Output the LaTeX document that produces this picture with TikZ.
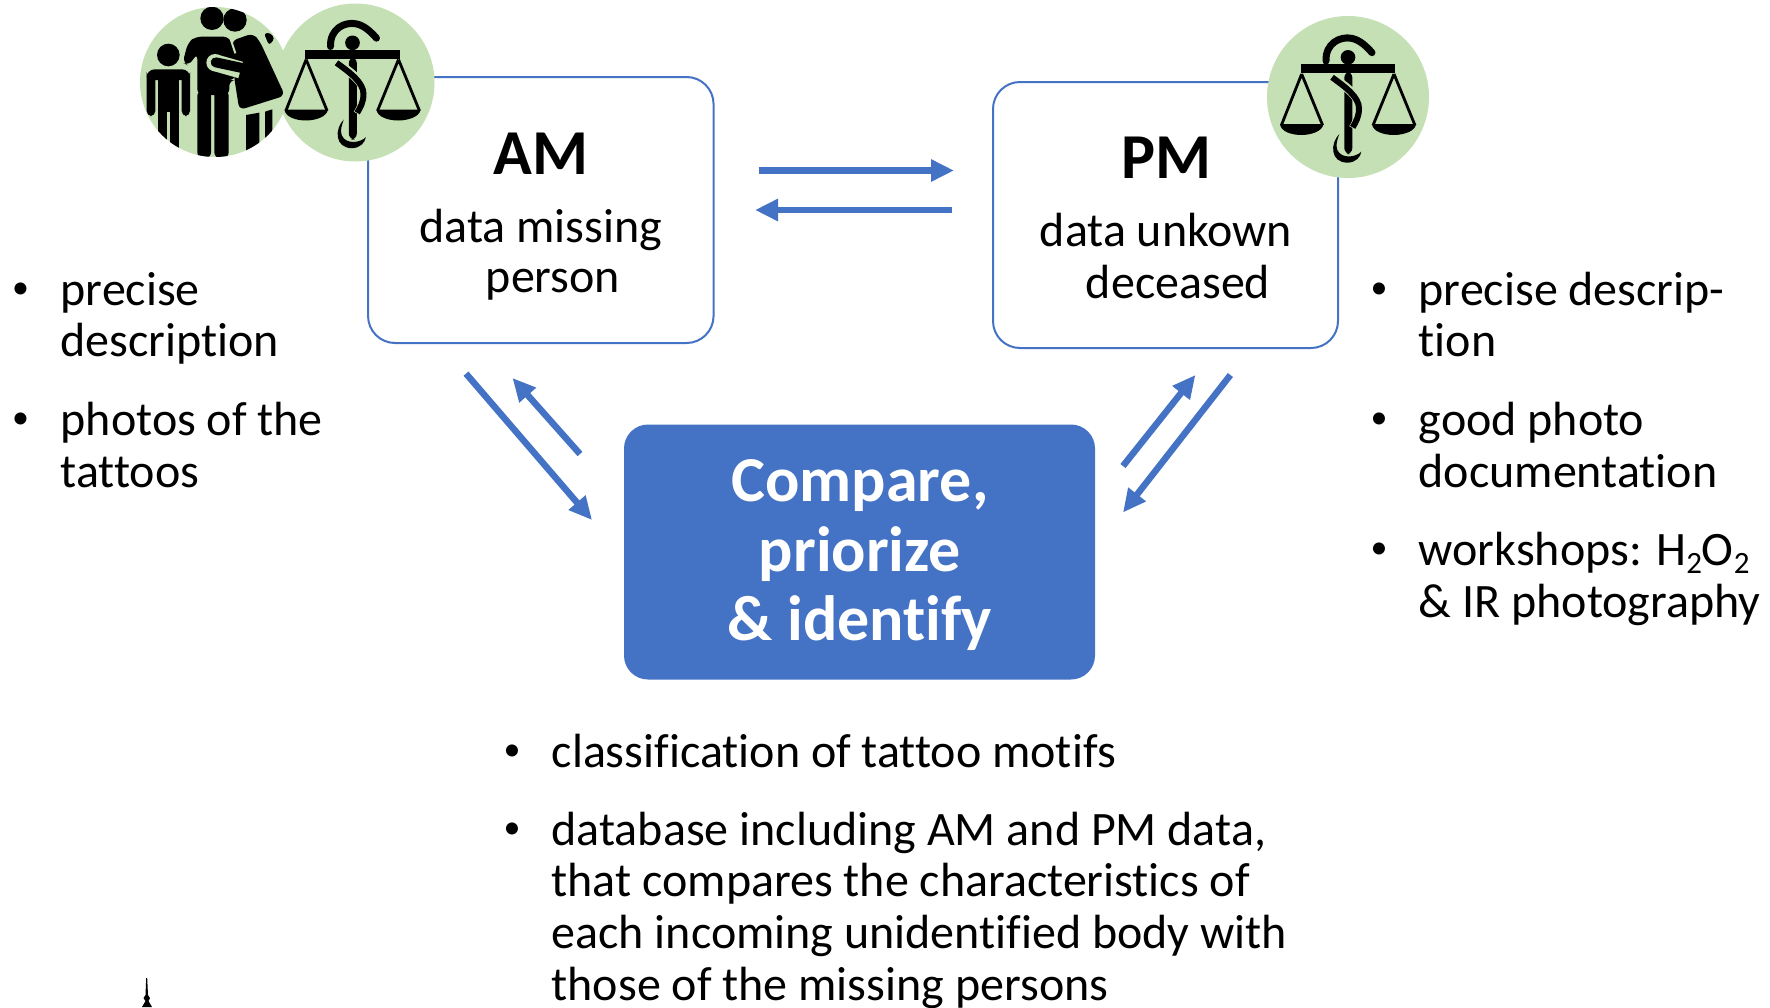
\documentclass[tikz,border=0pt]{standalone}
\usepackage{fontspec}
\setmainfont[Ligatures=NoCommon,Contextuals=NoAlternate]{Carlito}
\usetikzlibrary{arrows.meta}
\definecolor{boxblue}{HTML}{4472C4}
\definecolor{iconGreen}{HTML}{C5E0B4}
\newcommand{\subnum}[1]{\raisebox{-8pt}{\fontsize{31}{31}\selectfont #1}}
\tikzset{
  txt/.style={anchor=base west,inner sep=0pt,font=\fontsize{48}{52}\selectfont,text=black},
  ctr/.style={anchor=base,inner sep=0pt,font=\fontsize{48}{52}\selectfont,text=black},
  bul/.style={anchor=base,inner sep=0pt,font=\fontsize{34}{34}\selectfont,text=black},
  ttl/.style={anchor=base,inner sep=0pt,font=\fontsize{64}{70}\selectfont\bfseries,text=black},
  big/.style={anchor=base,inner sep=0pt,font=\fontsize{64}{69}\selectfont\bfseries,text=white},
  outlinebox/.style={draw=boxblue,line width=2pt,rounded corners=27pt,fill=white,inner sep=0pt},
  solidbox/.style={fill=boxblue,rounded corners=24pt,inner sep=0pt},
  flow/.style={draw=boxblue,line width=6.5pt,-{Triangle[length=23pt,width=21pt]},shorten >=0pt},
  badge/.style={circle,fill=iconGreen,inner sep=0pt},
}
\newcommand{\scalesicon}{%
  % pans and strings
  \draw[black,line width=2.8pt,line join=round] (155,222) -- (94,376) (155,222) -- (218,376);
  \draw[black,line width=2.8pt,line join=round] (432,222) -- (369,376) (432,222) -- (495,376);
  \fill[black] (90,372) -- (220,372) .. controls (218,395) and (180,405) .. (155,405) .. controls (125,405) and (92,395) .. (90,372) -- cycle;
  \fill[black] (366,372) -- (498,372) .. controls (496,395) and (458,405) .. (432,405) .. controls (402,405) and (368,395) .. (366,372) -- cycle;
  % beam, head, staff
  \fill[black] (152,192) rectangle (436,220);
  \fill[black] (294,172) circle (22);
  \fill[black,rounded corners=6pt] (283,215) rectangle (307,462);
  \draw[black,line width=7pt,line cap=round] (228,183) .. controls (226,130) and (270,108) .. (305,115) .. controls (330,120) and (350,140) .. (366,158);
  % serpent
  \draw[iconGreen,line width=9pt] (248,232) .. controls (290,262) and (330,290) .. (330,325) .. controls (330,350) and (320,365) .. (310,385);
  \draw[black,line width=6pt] (246,232) .. controls (288,262) and (327,292) .. (327,325) .. controls (327,350) and (318,365) .. (308,382);
  \fill[black] (268,402) .. controls (240,430) and (240,487) .. (292,488) .. controls (318,488) and (332,470) .. (334,455) .. controls (318,472) and (275,478) .. (262,450) .. controls (256,435) and (262,418) .. (268,402) -- cycle;
}
\begin{document}
\begin{tikzpicture}[x=1pt,y=-1pt]
\useasboundingbox (0,0) rectangle (1770,1007);

% boxes
\node[outlinebox,minimum width=345.5pt,minimum height=266pt] (am) at (540.8,210) {};
\node[outlinebox,minimum width=345pt,minimum height=266pt] (pm) at (1165.5,215) {};
\node[solidbox,minimum width=471pt,minimum height=255pt] (cmp) at (859.5,552) {};

% box texts
\node[ttl] (amT) at (541,174) {AM};
\node[ctr] (amA) at (541,242) {data missing};
\node[ctr] (amB) at (553,292.5) {person};
\node[ttl] (pmT) at (1166,178.5) {PM};
\node[ctr] (pmA) at (1166,246) {data unkown};
\node[ctr] (pmB) at (1178,298) {deceased};
\node[big] (c1) at (860,501) {Compare,};
\node[big] (c2) at (860,571) {priorize};
\node[big] (c3) at (860,640) {\&\ identify};

% connector ends
\coordinate (a1) at (758.5,170.5); \coordinate (a2) at (954,170.5);
\coordinate (b1) at (951.6,210);   \coordinate (b2) at (755,210);
\coordinate (c1s) at (466,373.6);  \coordinate (c1e) at (592,520);
\coordinate (d1) at (580,454);     \coordinate (d2) at (512.5,378);
\coordinate (e1) at (1123,466);    \coordinate (e2) at (1195.4,375);
\coordinate (f1) at (1230.4,375);  \coordinate (f2) at (1123,512.5);
\draw[flow] (a1) -- (a2);
\draw[flow] (b1) -- (b2);
\draw[flow] (c1s) -- (c1e);
\draw[flow] (d1) -- (d2);
\draw[flow] (e1) -- (e2);
\draw[flow] (f1) -- (f2);

% left list
\node[bul] (lb1) at (20.5,298) {•};
\node[txt] (l1) at (60.5,305) {precise};
\node[txt] (l2) at (60.5,356) {description};
\node[bul] (lb2) at (20.5,428) {•};
\node[txt] (l3) at (60.5,435) {photos of the};
\node[txt] (l4) at (60.5,487) {tattoos};

% right list
\node[bul] (rb1) at (1379,298) {•};
\node[txt] (r1) at (1418.5,305) {precise descrip-};
\node[txt] (r2) at (1418.5,356) {tion};
\node[bul] (rb2) at (1379,428) {•};
\node[txt] (r3) at (1418.5,435) {good photo};
\node[txt] (r4) at (1418.5,487) {documentation};
\node[bul] (rb3) at (1379,558.5) {•};
\node[txt] (r5) at (1418.5,565.5) {workshops: H\subnum{2}O\subnum{2}};
\node[txt] (r6) at (1418.5,617) {\&\ IR photography};

% bottom list
\node[bul] (bb1) at (512,760) {•};
\node[txt] (b1t) at (551.5,767) {classification of tattoo motifs};
\node[bul] (bb2) at (512,838) {•};
\node[txt] (b2t) at (551.5,845) {database including AM and PM data,};
\node[txt] (b3t) at (551.5,896.5) {that compares the characteristics of};
\node[txt] (b4t) at (551.5,948.5) {each incoming unidentified body with};
\node[txt] (b5t) at (551.5,1000) {those of the missing persons};

% badges
\node[badge,minimum size=158pt] (scA) at (355.5,82.5) {};
\node[badge,minimum size=150pt] (fam) at (215,82) {};
\node[badge,minimum size=162pt] (scB) at (1348,97) {};

% family icon
\begin{scope}
\clip (215,82) circle (75);
\begin{scope}[shift={(120,0)},x=0.33333pt,y=-0.33333pt]
  % child
  \fill[black] (145,165) circle (34);
  \fill[black,rounded corners=8pt] (80,208) rectangle (210,240);
  \fill[black,rounded corners=5pt] (80,215) rectangle (106,348);
  \fill[black,rounded corners=5pt] (185,215) rectangle (210,348);
  \fill[black] (113,225) rectangle (178,335);
  \fill[black] (113,330) rectangle (141,470);
  \fill[black] (149,330) rectangle (178,470);
  % man
  \fill[black] (276,55) circle (35);
  \fill[black,rounded corners=6pt] (188,188) -- (204,128) -- (226,110) -- (328,110) -- (346,165) -- (346,240) -- (328,240) -- (328,285) -- (232,285) -- (232,160) -- (206,197) -- cycle;
  \fill[black,rounded corners=6pt] (232,270) rectangle (273,475);
  \fill[black,rounded corners=6pt] (283,270) rectangle (326,475);
  % woman
  \fill[black] (345,60) circle (35);
  \fill[black,rounded corners=6pt] (335,122) -- (400,100) -- (420,125) -- (495,287) -- (358,330) -- (343,235) -- cycle;
  \draw[iconGreen,line width=2pt] (332,118) -- (346,160);
  % woman's arm, set off from the man's body
  \fill[iconGreen] (285,188) circle (26);
  \draw[iconGreen,line width=17pt] (285,188) -- (362,210);
  \draw[black,line width=10pt,line cap=round] (287,187) -- (385,208);
  \fill[black] (378,345) -- (418,338) -- (418,470) -- (378,470) -- cycle;
  \fill[black] (435,335) -- (457,328) -- (457,470) -- (435,470) -- cycle;
  \fill[black,rounded corners=3pt] (432,100) -- (450,98) -- (464,116) -- (447,136) -- cycle;
\end{scope}
\end{scope}

% scales icons
\begin{scope}[shift={(254.5,-14.5)},x=0.33333pt,y=-0.33333pt]
  \scalesicon
\end{scope}
\begin{scope}[shift={(1250,0)},x=0.33333pt,y=-0.33333pt]
  \scalesicon
\end{scope}

% spire at the lower left
\fill[black] (146.2,978) -- (147.2,978) -- (148,995) -- (150,998) -- (148.5,1001) -- (152,1007) -- (142,1007) -- (145.5,1001) -- (143.5,998) -- (145.5,995) -- cycle;
\end{tikzpicture}
\end{document}
